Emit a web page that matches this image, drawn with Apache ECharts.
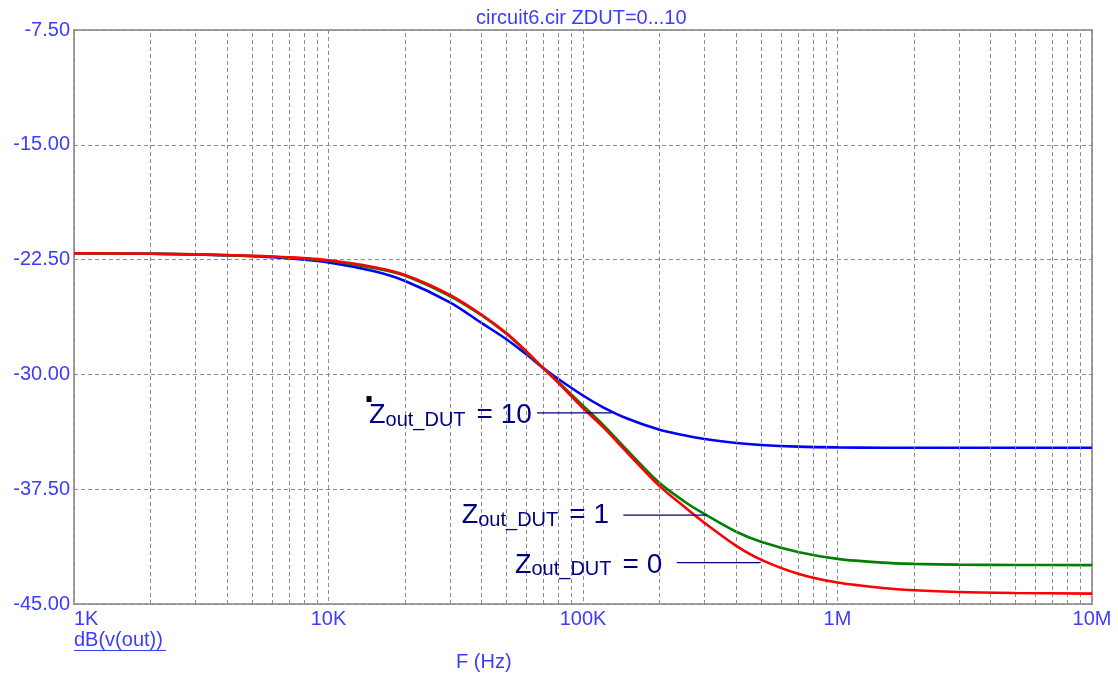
<!DOCTYPE html>
<html>
<head>
<meta charset="utf-8">
<script src="https://cdn.jsdelivr.net/npm/echarts@6/dist/echarts.min.js"></script>
<style>
html,body{margin:0;padding:0;background:#ffffff;}
#chart{width:1118px;height:678px;}
</style>
</head>
<body>
<div id="chart"></div>
<script>
// ---------------- data ----------------
const freqHz = [1000, 2000, 3000, 5000, 7000, 10000, 15000, 20000, 30000, 40000, 50000, 60000, 70000, 80000,
  100000, 120000, 150000, 200000, 250000, 300000, 400000, 500000, 700000, 1000000, 1500000, 2000000,
  3000000, 5000000, 10000000];
const dbZdut10 = [-22.09, -22.12, -22.17, -22.28, -22.42, -22.68, -23.25, -23.9, -25.3, -26.65, -27.7, -28.7,
  -29.6, -30.3, -31.38, -32.15, -32.9, -33.62, -33.98, -34.22, -34.48, -34.61, -34.72, -34.77, -34.79, -34.79,
  -34.79, -34.79, -34.79];
const dbZdut1 = [-22.09, -22.12, -22.16, -22.26, -22.37, -22.58, -23.05, -23.55, -24.88, -26.15, -27.35, -28.55,
  -29.62, -30.5, -32.05, -33.3, -35.0, -37.1, -38.3, -39.12, -40.28, -40.93, -41.6, -42.05, -42.3, -42.38,
  -42.43, -42.45, -42.46];
const dbZdut0 = [-22.09, -22.12, -22.16, -22.25, -22.35, -22.54, -22.98, -23.5, -24.8, -26.1, -27.3, -28.5,
  -29.62, -30.55, -32.2, -33.45, -35.15, -37.3, -38.65, -39.7, -41.2, -42.1, -43.02, -43.6, -43.95, -44.1,
  -44.22, -44.28, -44.32];
const seriesNames = ['Zout_DUT = 10', 'Zout_DUT = 1', 'Zout_DUT = 0'];
const annotationValues = ['10', '1', '0'];
const xTickValues = [1e3, 1e4, 1e5, 1e6, 1e7];
const xTickLabels = ['1K', '10K', '100K', '1M', '10M'];
const yTickValues = [-45, -37.5, -30, -22.5, -15, -7.5];
const yTickLabels = ['-45.00', '-37.50', '-30.00', '-22.50', '-15.00', '-7.50'];
const chartTitle = 'circuit6.cir ZDUT=0...10';
const yTraceLabel = 'dB(v(out))';
const xAxisTitle = 'F (Hz)';

// ---------------- layout / style ----------------
const FONT = 'Arial, "Liberation Sans", sans-serif';
const LABEL_BLUE = '#3c3cff';
const NAVY = '#000080';
const GRID_GRAY = '#8c8c8c';

// minor decade grid lines (2..9 x decade)
const xMinorGrid = [];
for (let d = 3; d < 7; d++) {
  for (let m = 2; m <= 9; m++) xMinorGrid.push(m * Math.pow(10, d));
}

// annotation anchors in data coordinates (freq, dB)
const annotationLayout = [
  { textAt: [14430, -32.69], lineFrom: [65950, -32.52], lineTo: [129700, -32.52] },
  { textAt: [33380, -39.22], lineFrom: [144000, -39.19], lineTo: [306000, -39.19] },
  { textAt: [54050, -42.48], lineFrom: [233500, -42.30], lineTo: [499000, -42.30] }
];
const markerAt = [14430, -31.61];

function xLabel(v) {
  let best = 0, bd = Infinity;
  for (let i = 0; i < xTickValues.length; i++) {
    const d = Math.abs(Math.log10(v) - Math.log10(xTickValues[i]));
    if (d < bd) { bd = d; best = i; }
  }
  return bd < 0.01 ? xTickLabels[best] : '';
}
function yLabel(v) {
  let best = 0, bd = Infinity;
  for (let i = 0; i < yTickValues.length; i++) {
    const d = Math.abs(v - yTickValues[i]);
    if (d < bd) { bd = d; best = i; }
  }
  return yTickLabels[best];
}

const colors = ['#0000ff', '#008000', '#ff0000'];
const dataSets = [dbZdut10, dbZdut1, dbZdut0];

const chart = echarts.init(document.getElementById('chart'), null, { renderer: 'canvas' });

const option = {
  animation: false,
  backgroundColor: '#ffffff',
  title: {
    text: chartTitle,
    left: 476,
    top: 8,
    padding: 0,
    textStyle: { fontFamily: FONT, fontSize: 20, fontWeight: 'normal', color: LABEL_BLUE }
  },
  grid: {
    left: 74, right: 26, top: 30, bottom: 74,
    show: true, borderColor: '#a0a0a0', borderWidth: 2,
    outerBoundsMode: 'none'
  },
  xAxis: {
    type: 'log',
    logBase: 10,
    min: 1e3,
    max: 1e7,
    axisLine: { show: false },
    axisTick: { show: false },
    axisLabel: {
      formatter: xLabel,
      color: LABEL_BLUE,
      fontFamily: FONT,
      fontSize: 20,
      margin: 5,
      alignMinLabel: 'left',
      alignMaxLabel: 'center',
      showMinLabel: true,
      showMaxLabel: true
    },
    splitLine: { show: true, lineStyle: { color: GRID_GRAY, type: [4, 3], width: 1 } }
  },
  yAxis: {
    type: 'value',
    min: -45,
    max: -7.5,
    interval: 7.5,
    axisLine: { show: false },
    axisTick: { show: false },
    axisLabel: {
      formatter: yLabel,
      color: LABEL_BLUE,
      fontFamily: FONT,
      fontSize: 20,
      margin: 4
    },
    splitLine: { show: true, lineStyle: { color: GRID_GRAY, type: [4, 3], width: 1 } }
  },
  series: [
    {
      type: 'line',
      name: 'minor-grid',
      data: [],
      silent: true,
      z: 1,
      markLine: {
        silent: true,
        symbol: ['none', 'none'],
        label: { show: false },
        lineStyle: { color: GRID_GRAY, type: [4, 3], width: 1 },
        emphasis: { disabled: true },
        data: xMinorGrid.map(v => ({ xAxis: v }))
      }
    }
  ].concat(dataSets.map((arr, i) => ({
    type: 'line',
    name: seriesNames[i],
    data: freqHz.map((f, k) => [f, arr[k]]),
    showSymbol: false,
    smooth: 0.3,
    z: 3 + i,
    lineStyle: { color: colors[i], width: 2.6 },
    itemStyle: { color: colors[i] },
    emphasis: { disabled: true }
  })))
};
chart.setOption(option);

// ---------------- annotations (positions from data coords) ----------------
const px = (p) => chart.convertToPixel({ gridIndex: 0 }, p);
const graphics = [];
annotationLayout.forEach((a, i) => {
  const t = px(a.textAt);
  const l1 = px(a.lineFrom);
  const l2 = px(a.lineTo);
  graphics.push({
    type: 'line',
    z: 10,
    shape: { x1: l1[0], y1: l1[1], x2: l2[0], y2: l2[1] },
    style: { stroke: NAVY, lineWidth: 1.2 }
  });
  graphics.push({
    type: 'text',
    z: 11,
    x: t[0],
    y: t[1],
    style: {
      text: '{z|Z}{s|out_DUT}{e|= ' + annotationValues[i] + '}',
      align: 'left',
      verticalAlign: 'middle',
      rich: {
        z: { fontFamily: FONT, fontSize: 27, fill: NAVY },
        s: { fontFamily: FONT, fontSize: 20, fill: NAVY, padding: [9, 0, 0, 0] },
        e: { fontFamily: FONT, fontSize: 28, fill: NAVY, padding: [0, 0, 0, 11] }
      }
    }
  });
});
const m = px(markerAt);
graphics.push({ type: 'rect', z: 12, shape: { x: m[0] - 2.5, y: m[1] - 3, width: 5, height: 6 }, style: { fill: '#000000' } });

const origin = px([1e3, -45]);
graphics.push({
  type: 'text', z: 11, x: origin[0], y: 640,
  style: { text: yTraceLabel, align: 'left', verticalAlign: 'middle', fontFamily: FONT, fontSize: 20, fill: LABEL_BLUE }
});
graphics.push({
  type: 'line', z: 11,
  shape: { x1: origin[0], y1: 650.5, x2: origin[0] + 92, y2: 650.5 },
  style: { stroke: LABEL_BLUE, lineWidth: 1 }
});
graphics.push({
  type: 'text', z: 11, x: 456, y: 662,
  style: { text: xAxisTitle, align: 'left', verticalAlign: 'middle', fontFamily: FONT, fontSize: 20, fill: LABEL_BLUE }
});
chart.setOption({ graphic: graphics });
</script>
</body>
</html>
